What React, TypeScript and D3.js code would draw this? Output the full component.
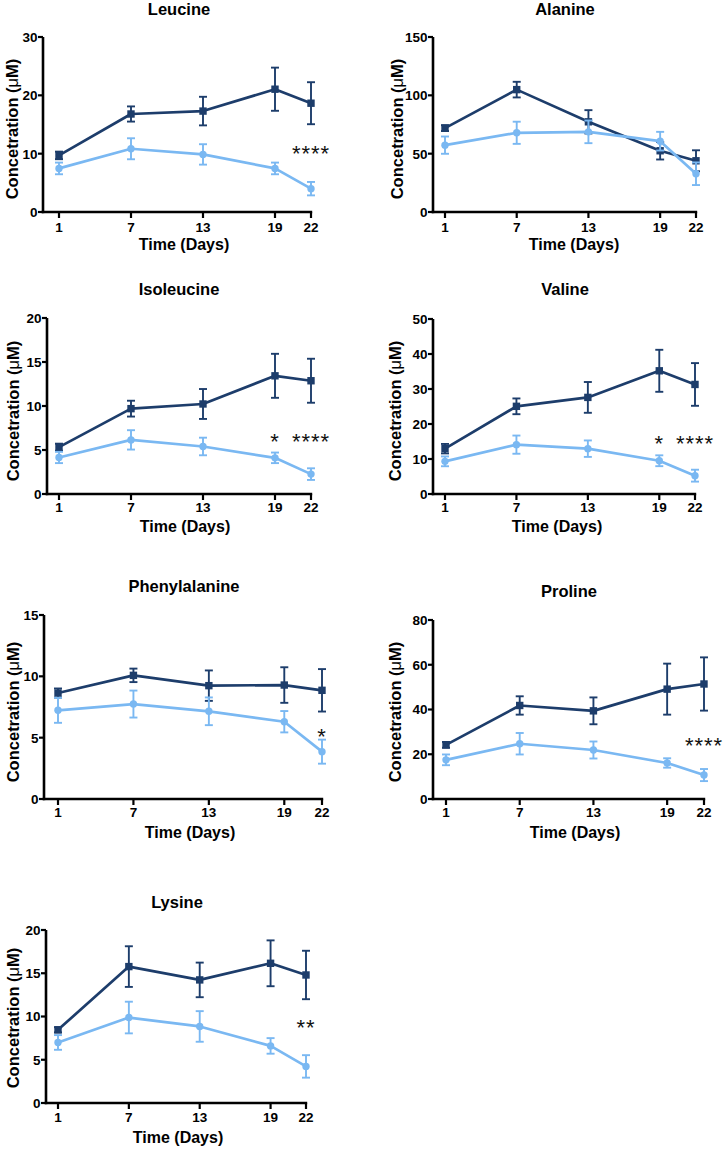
import React from "react";
import * as d3 from "d3";

// ---------- data ----------
const days = [1, 7, 13, 19, 22];
const dayTickLabels = ["1", "7", "13", "19", "22"];
const panelTitles = ["Leucine", "Alanine", "Isoleucine", "Valine", "Phenylalanine", "Proline", "Lysine"];
const yAxisMax = [30, 150, 20, 50, 15, 80, 20];
const yAxisStep = [10, 50, 5, 10, 5, 20, 5];

const leucineDark = [9.7, 16.8, 17.3, 21.05, 18.65];
const leucineDarkErr = [0.65, 1.3, 2.45, 3.7, 3.6];
const leucineLight = [7.47, 10.84, 9.87, 7.47, 4.0];
const leucineLightErr = [1.0, 1.8, 1.75, 1.0, 1.15];

const alanineDark = [71.9, 104.9, 77.3, 52.5, 43.9];
const alanineDarkErr = [2.5, 6.7, 10, 7.5, 9];
const alanineLight = [57.3, 67.9, 68.7, 60.7, 32.8];
const alanineLightErr = [7.4, 9.5, 9.7, 8, 9.7];

const isoleucineDark = [5.32, 9.7, 10.23, 13.43, 12.87];
const isoleucineDarkErr = [0.4, 0.9, 1.7, 2.5, 2.5];
const isoleucineLight = [4.15, 6.15, 5.4, 4.11, 2.26];
const isoleucineLightErr = [0.64, 1.1, 1.0, 0.6, 0.66];

const valineDark = [12.95, 25.05, 27.6, 35.2, 31.3];
const valineDarkErr = [1.35, 2.25, 4.4, 6.0, 6.1];
const valineLight = [9.33, 14.1, 12.95, 9.5, 5.24];
const valineLightErr = [1.4, 2.6, 2.35, 1.55, 1.7];

const phenylalanineDark = [8.64, 10.08, 9.24, 9.29, 8.86];
const phenylalanineDarkErr = [0.37, 0.55, 1.24, 1.45, 1.73];
const phenylalanineLight = [7.23, 7.74, 7.15, 6.3, 3.86];
const phenylalanineLightErr = [1.02, 1.1, 1.13, 0.87, 0.98];

const prolineDark = [24.2, 41.8, 39.4, 49.1, 51.4];
const prolineDarkErr = [1.3, 4.1, 6, 11.4, 11.9];
const prolineLight = [17.5, 24.7, 21.9, 16.1, 10.7];
const prolineLightErr = [2.4, 4.8, 3.8, 2.1, 2.7];

const lysineDark = [8.46, 15.77, 14.23, 16.15, 14.8];
const lysineDarkErr = [0.3, 2.35, 2.0, 2.65, 2.8];
const lysineLight = [7.0, 9.88, 8.85, 6.6, 4.23];
const lysineLightErr = [0.85, 1.83, 1.77, 0.9, 1.3];

const darkSeries = [leucineDark, alanineDark, isoleucineDark, valineDark, phenylalanineDark, prolineDark, lysineDark];
const darkErrors = [leucineDarkErr, alanineDarkErr, isoleucineDarkErr, valineDarkErr, phenylalanineDarkErr, prolineDarkErr, lysineDarkErr];
const lightSeries = [leucineLight, alanineLight, isoleucineLight, valineLight, phenylalanineLight, prolineLight, lysineLight];
const lightErrors = [leucineLightErr, alanineLightErr, isoleucineLightErr, valineLightErr, phenylalanineLightErr, prolineLightErr, lysineLightErr];

// significance markers
const sigPanel = [0, 2, 2, 3, 3, 4, 5, 6];
const sigDay = [22, 19, 22, 19, 22, 22, 22, 22];
const sigLabel = ["****", "*", "****", "*", "****", "*", "****", "**"];
const sigLevel = [11.6, 7.1, 7.1, 17.2, 17.2, 5.9, 28.3, 9.8];

// ---------- layout ----------
const layouts = [
  { axisX: 43, top: 37, bottom: 212, x1: 59, x22: 311, titleX: 179, titleY: 15, xTitleX: 184, tickY: 232, xTitleY: 250, yTitleX: 12, yTitleC: 129 },
  { axisX: 433, top: 37, bottom: 212, x1: 445, x22: 696, titleX: 565, titleY: 15, xTitleX: 574, tickY: 232, xTitleY: 250, yTitleX: 397, yTitleC: 129 },
  { axisX: 47, top: 318, bottom: 494, x1: 59, x22: 311, titleX: 179, titleY: 295, xTitleX: 185, tickY: 512, xTitleY: 532, yTitleX: 13, yTitleC: 411 },
  { axisX: 433, top: 319, bottom: 494, x1: 445, x22: 695, titleX: 565, titleY: 295, xTitleX: 557, tickY: 512, xTitleY: 532, yTitleX: 395, yTitleC: 411 },
  { axisX: 44, top: 615, bottom: 799, x1: 58, x22: 322, titleX: 184, titleY: 592, xTitleX: 190, tickY: 817, xTitleY: 838, yTitleX: 13, yTitleC: 712 },
  { axisX: 433, top: 620, bottom: 799, x1: 446, x22: 704, titleX: 569, titleY: 597, xTitleX: 575, tickY: 817, xTitleY: 838, yTitleX: 395, yTitleC: 712 },
  { axisX: 46, top: 930, bottom: 1103, x1: 58, x22: 306, titleX: 177, titleY: 908, xTitleX: 178, tickY: 1122, xTitleY: 1143, yTitleX: 13, yTitleC: 1018 },
];

const DARK = "#1d3d6b";
const LIGHT = "#7ab8f2";
const FONT = "'Liberation Sans', Arial, Helvetica, sans-serif";

function Series({ x, y, means, errs, color, square }) {
  const line = d3.line<number>().x((_, i) => x(days[i])).y((d) => y(d));
  return (
    <g>
      <path d={line(means) || ""} fill="none" stroke={color} strokeWidth={2.7} strokeLinejoin="round" />
      {means.map((m, i) => {
        const cx = x(days[i]);
        const hi = y(m + errs[i]);
        const lo = y(m - errs[i]);
        return (
          <g key={i}>
            <line x1={cx} x2={cx} y1={hi} y2={lo} stroke={color} strokeWidth={1.9} />
            <line x1={cx - 4} x2={cx + 4} y1={hi} y2={hi} stroke={color} strokeWidth={1.9} />
            <line x1={cx - 4} x2={cx + 4} y1={lo} y2={lo} stroke={color} strokeWidth={1.9} />
            {square ? (
              <rect x={cx - 3.7} y={y(m) - 3.7} width={7.4} height={7.4} fill={color} />
            ) : (
              <circle cx={cx} cy={y(m)} r={3.7} fill={color} />
            )}
          </g>
        );
      })}
    </g>
  );
}

function Panel({ idx }) {
  const L = layouts[idx];
  const x = d3.scaleLinear().domain([1, 22]).range([L.x1, L.x22]);
  const y = d3.scaleLinear().domain([0, yAxisMax[idx]]).range([L.bottom, L.top]);
  const yTicks = d3.range(0, yAxisMax[idx] + yAxisStep[idx] / 2, yAxisStep[idx]);
  const sigs = sigPanel.map((p, i) => i).filter((i) => sigPanel[i] === idx);
  return (
    <g>
      <text x={L.titleX} y={L.titleY} textAnchor="middle" fontFamily={FONT} fontWeight="bold" fontSize={16.5}>
        {panelTitles[idx]}
      </text>
      <line x1={L.axisX} x2={L.axisX} y1={L.top} y2={L.bottom + 1.2} stroke="#000" strokeWidth={2.6} />
      <line x1={L.axisX - 1.3} x2={L.x22 + 1.2} y1={L.bottom} y2={L.bottom} stroke="#000" strokeWidth={2.6} />
      {yTicks.map((t) => (
        <g key={t}>
          <line x1={L.axisX - 5} x2={L.axisX} y1={y(t)} y2={y(t)} stroke="#000" strokeWidth={2.2} />
          <text x={L.axisX - 5.5} y={y(t)} dy="0.36em" textAnchor="end" fontFamily={FONT} fontWeight="bold" fontSize={13.5}>
            {t}
          </text>
        </g>
      ))}
      {days.map((d, i) => (
        <g key={d}>
          <line x1={x(d)} x2={x(d)} y1={L.bottom} y2={L.bottom + 6} stroke="#000" strokeWidth={2.2} />
          <text x={x(d)} y={L.tickY} textAnchor="middle" fontFamily={FONT} fontWeight="bold" fontSize={13.5}>
            {dayTickLabels[i]}
          </text>
        </g>
      ))}
      <text x={L.xTitleX} y={L.xTitleY} textAnchor="middle" fontFamily={FONT} fontWeight="bold" fontSize={16}>
        Time (Days)
      </text>
      <text
        transform={`translate(${L.yTitleX},${L.yTitleC}) rotate(-90)`}
        textAnchor="middle"
        dy="0.36em"
        fontFamily={FONT}
        fontWeight="bold"
        fontSize={16.5}
      >
        Concetration (<tspan fontWeight="normal">μ</tspan>M)
      </text>
      <Series x={x} y={y} means={darkSeries[idx]} errs={darkErrors[idx]} color={DARK} square={true} />
      <Series x={x} y={y} means={lightSeries[idx]} errs={lightErrors[idx]} color={LIGHT} square={false} />
      {sigs.map((i) => (
        <text
          key={i}
          x={x(sigDay[i])}
          y={y(sigLevel[i])}
          dy="0.78em"
          textAnchor="middle"
          fontFamily={FONT}
          fontSize={22}
          letterSpacing={1}
          fill="#111"
        >
          {sigLabel[i]}
        </text>
      ))}
    </g>
  );
}

export default function App() {
  return (
    <svg
      width={725}
      height={1149}
      viewBox="0 0 725 1149"
      style={{ position: "absolute", left: 0, top: 0, background: "#fff" }}
    >
      <rect x={0} y={0} width={725} height={1149} fill="#fff" />
      {panelTitles.map((_, i) => (
        <Panel key={i} idx={i} />
      ))}
    </svg>
  );
}
